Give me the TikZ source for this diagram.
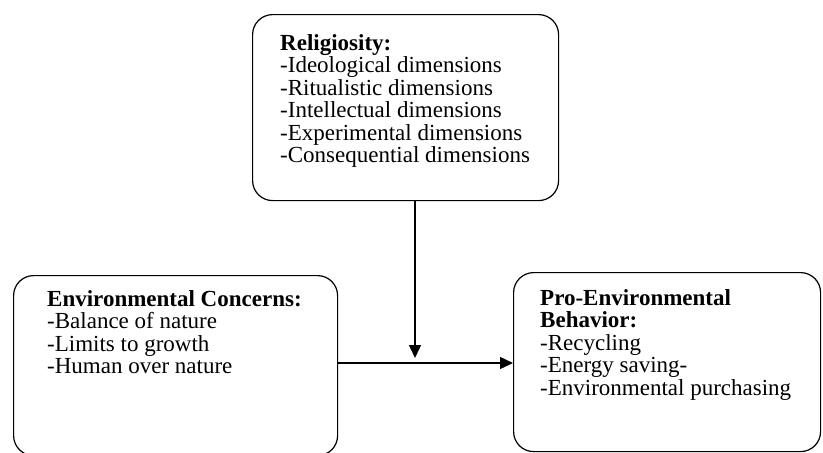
\documentclass[tikz,border=0pt]{standalone}
\usepackage{fontspec}
\setmainfont{Liberation Serif}
\usetikzlibrary{arrows.meta}

\begin{document}
\begin{tikzpicture}[x=1pt,y=-1pt,
  box/.style={draw,line width=1.2pt,rounded corners=20pt,anchor=north west,inner sep=0pt},
  txt/.style={anchor=north west,inner sep=0pt,align=left,font=\fontsize{23}{22.5}\selectfont},
  link/.style={line width=1.4pt,-{Triangle[length=13pt,width=12pt]}}]
  \useasboundingbox (0,0) rectangle (823,453);

  % the three boxes
  \node[box,minimum width=306pt,minimum height=186pt] (relig) at (252,14) {};
  \node[box,minimum width=324pt,minimum height=180pt] (concern) at (13,275) {};
  \node[box,minimum width=307pt,minimum height=179pt] (behav) at (513,272) {};

  \node[txt] (religtxt) at ([shift={(28,20)}]relig.north west)
    {\textbf{Religiosity:}\\-Ideological dimensions\\-Ritualistic dimensions\\-Intellectual dimensions\\-Experimental dimensions\\-Consequential dimensions};
  \node[txt] (concerntxt) at ([shift={(34,15)}]concern.north west)
    {\textbf{Environmental Concerns:}\\-Balance of nature\\-Limits to growth\\-Human over nature};
  \node[txt] (behavtxt) at ([shift={(27,17)}]behav.north west)
    {\textbf{Pro-Environmental}\\\textbf{Behavior:}\\-Recycling\\-Energy saving-\\-Environmental purchasing};

  % arrows
  \coordinate (mid) at (415,363);
  \draw[link] (relig.south -| mid) -- ([yshift=5pt]mid);
  \draw[link] (concern.east |- mid) -- (behav.west |- mid);
\end{tikzpicture}
\end{document}
